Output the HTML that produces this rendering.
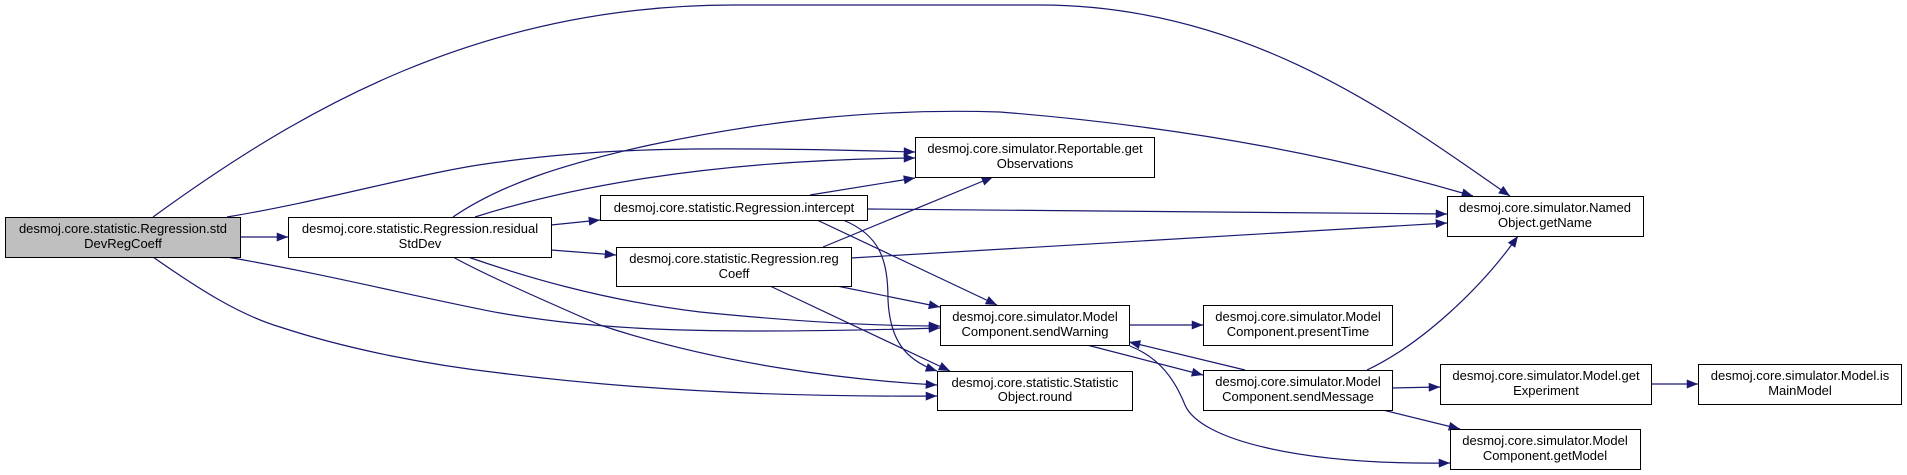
<!DOCTYPE html>
<html><head><meta charset="utf-8"><style>
html,body{margin:0;padding:0;background:#fff;}
svg{display:block;}
text{font-family:"Liberation Sans",Arial,sans-serif;font-size:13px;fill:#000;}
</style></head><body>
<svg width="1907" height="475" viewBox="0 0 1907 475" xmlns="http://www.w3.org/2000/svg">
<defs>
<marker id="a" viewBox="0 0 10 8" refX="10" refY="4" markerWidth="13" markerHeight="9" markerUnits="userSpaceOnUse" orient="auto">
<path d="M0,0 L10,4 L0,8 z" fill="#191970"/>
</marker>
</defs>
<g fill="none" stroke="#191970" stroke-width="1.2" marker-end="url(#a)">
<path d="M240,237 L288,237"/>
<path d="M153,217 C300,110 480,5 733,5 L1040,5 C1250,5 1400,120 1510,196"/>
<path d="M227,217 C330,200 430,170 500,162 C600,148 700,146 915,152"/>
<path d="M475,217 C560,190 700,160 915,158"/>
<path d="M453,217 C500,185 560,165 650,145 C760,122 870,108 1000,112 C1200,128 1350,160 1473,196"/>
<path d="M810,195 L915,178"/>
<path d="M823,247 L993,177"/>
<path d="M867,209 L1447,214"/>
<path d="M851,258 L1447,223"/>
<path d="M551,225 L600,220"/>
<path d="M551,250 L616,255"/>
<path d="M817,220 L997,305"/>
<path d="M843,220 C880,235 888,260 888,300 C890,340 905,360 937,371"/>
<path d="M837,286 L940,307"/>
<path d="M770,286 L950,371"/>
<path d="M468,257 C520,275 600,300 700,312 C800,322 880,326 940,326"/>
<path d="M227,257 C330,275 430,300 500,313 C600,330 700,335 940,328"/>
<path d="M453,257 C480,272 520,290 600,325 C720,365 850,380 937,385"/>
<path d="M153,257 C200,290 240,315 280,327 C350,350 430,365 500,373 C650,392 800,397 937,396"/>
<path d="M1129,325 L1203,325"/>
<path d="M1087,345 L1203,375"/>
<path d="M1245,370 L1129,342"/>
<path d="M1130,346 C1160,358 1175,380 1185,405 C1200,440 1300,465 1450,463"/>
<path d="M1367,370 C1420,345 1480,290 1518,236"/>
<path d="M1392,388 L1440,387"/>
<path d="M1383,410 L1460,429"/>
<path d="M1651,384 L1698,384"/>
</g>
<g stroke="#000" stroke-width="1">
<rect x="5.5" y="217.5" width="235" height="40" fill="#bfbfbf"/>
<rect x="288.5" y="217.5" width="263" height="40" fill="#fff"/>
<rect x="600.5" y="195.5" width="267" height="25" fill="#fff"/>
<rect x="616.5" y="247.5" width="235" height="39" fill="#fff"/>
<rect x="915.5" y="137.5" width="239" height="40" fill="#fff"/>
<rect x="1447.5" y="196.5" width="196" height="40" fill="#fff"/>
<rect x="940.5" y="305.5" width="189" height="40" fill="#fff"/>
<rect x="1203.5" y="305.5" width="189" height="40" fill="#fff"/>
<rect x="937.5" y="371.5" width="195" height="39" fill="#fff"/>
<rect x="1203.5" y="370.5" width="189" height="40" fill="#fff"/>
<rect x="1440.5" y="364.5" width="211" height="40" fill="#fff"/>
<rect x="1698.5" y="364.5" width="203" height="40" fill="#fff"/>
<rect x="1450.5" y="429.5" width="190" height="40" fill="#fff"/>
</g>
<g text-anchor="middle">
<text x="123" y="233">desmoj.core.statistic.Regression.std</text><text x="123" y="248">DevRegCoeff</text>
<text x="420" y="233">desmoj.core.statistic.Regression.residual</text><text x="420" y="248">StdDev</text>
<text x="734" y="212">desmoj.core.statistic.Regression.intercept</text>
<text x="734" y="263">desmoj.core.statistic.Regression.reg</text><text x="734" y="278">Coeff</text>
<text x="1035" y="153">desmoj.core.simulator.Reportable.get</text><text x="1035" y="168">Observations</text>
<text x="1545" y="212">desmoj.core.simulator.Named</text><text x="1545" y="227">Object.getName</text>
<text x="1035" y="321">desmoj.core.simulator.Model</text><text x="1035" y="336">Component.sendWarning</text>
<text x="1298" y="321">desmoj.core.simulator.Model</text><text x="1298" y="336">Component.presentTime</text>
<text x="1035" y="387">desmoj.core.statistic.Statistic</text><text x="1035" y="401">Object.round</text>
<text x="1298" y="386">desmoj.core.simulator.Model</text><text x="1298" y="401">Component.sendMessage</text>
<text x="1546" y="380">desmoj.core.simulator.Model.get</text><text x="1546" y="395">Experiment</text>
<text x="1800" y="380">desmoj.core.simulator.Model.is</text><text x="1800" y="395">MainModel</text>
<text x="1545" y="445">desmoj.core.simulator.Model</text><text x="1545" y="460">Component.getModel</text>
</g>
</svg>
</body></html>
